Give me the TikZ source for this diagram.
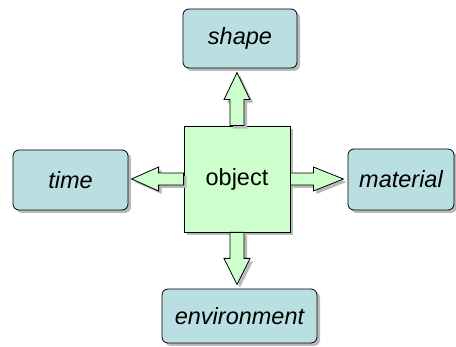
\documentclass[tikz,border=0pt]{standalone}
\usepackage{fontspec}
\setmainfont{Liberation Sans}
\usetikzlibrary{shadows}
\definecolor{boxfill}{HTML}{BADFE3}
\definecolor{objfill}{HTML}{CCFFCC}
\tikzset{
  myshadow/.style={drop shadow={shadow xshift=3pt,shadow yshift=-3pt,fill=gray!55,opacity=1}},
  catbox/.style={draw=black,line width=0.8pt,fill=boxfill,rounded corners=6pt,myshadow,
     font=\fontsize{23.5}{27}\selectfont\itshape,inner sep=0pt},
  objbox/.style={draw=black,line width=0.8pt,fill=objfill,myshadow,
     minimum width=106pt,minimum height=106pt,font=\fontsize{23.5}{27}\selectfont,inner sep=0pt},
  blockarrow/.style={draw=black,line width=0.8pt,fill=objfill,myshadow,line join=miter}
}
\begin{document}
\begin{tikzpicture}[x=1pt,y=-1pt]
\useasboundingbox (0,0) rectangle (456,347);
\node[objbox] (obj) at (237,179) {object};
\node[catbox,minimum width=114pt,minimum height=59pt] (shape) at (240,38.5) {shape};
\node[catbox,minimum width=115pt,minimum height=60pt] (time) at (70.5,180) {time};
\node[catbox,minimum width=106pt,minimum height=61pt] (material) at (401,179.5) {material};
\node[catbox,minimum width=155pt,minimum height=54pt] (env) at (239.5,316) {environment};
% block arrows
\draw[blockarrow,shift={(obj.north)}] (-7,0) -- (-7,-26) -- (-13,-26) -- (0,-53) -- (13,-26) -- (7,-26) -- (7,0) -- cycle;
\draw[blockarrow,shift={(obj.west)}] (0,-6) -- (-25,-6) -- (-25,-12) -- (-52,0) -- (-25,12) -- (-25,6) -- (0,6) -- cycle;
\draw[blockarrow,shift={(obj.east)}] (0,-6) -- (23,-6) -- (23,-12) -- (53,0) -- (23,12) -- (23,6) -- (0,6) -- cycle;
\draw[blockarrow,shift={(obj.south)}] (-7,0) -- (-7,26) -- (-13,26) -- (0,52) -- (13,26) -- (7,26) -- (7,0) -- cycle;
\end{tikzpicture}
\end{document}
